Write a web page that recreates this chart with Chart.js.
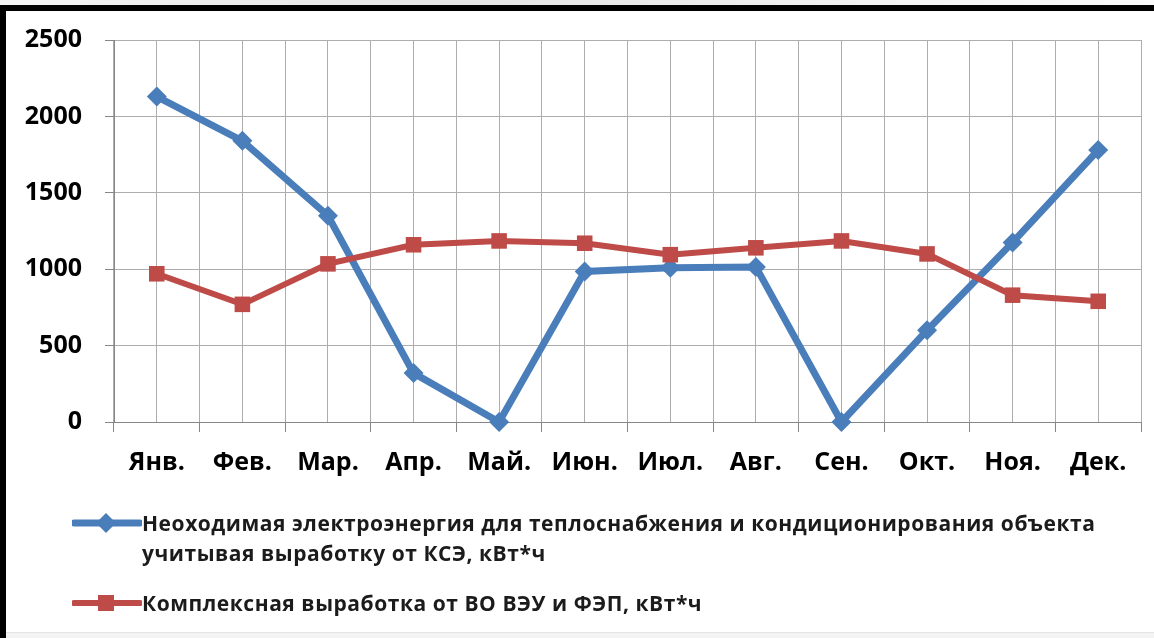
<!DOCTYPE html>
<html lang="ru">
<head>
<meta charset="utf-8">
<title>Выработка электроэнергии по месяцам</title>
<script src="https://cdn.jsdelivr.net/npm/chart.js@4.4.1/dist/chart.umd.min.js"></script>
<style>
  html, body { margin: 0; padding: 0; }
  body { width: 1154px; height: 638px; position: relative; overflow: hidden; background: #fff; font-family: "Open Sans", sans-serif; }
  #topShade { position: absolute; left: 0; top: 0; width: 1154px; height: 5px; background: linear-gradient(to right, #f4f4f4, #e6e6e6 40%, #fafafa); }
  #frameTop { position: absolute; left: 0; top: 5px; width: 1154px; height: 6px; background: #000; z-index: 2; }
  #frameLeft { position: absolute; left: 0; top: 5px; width: 6px; height: 633px; background: #000; z-index: 2; }
  #bottomShade { position: absolute; left: 0; top: 632px; width: 1154px; height: 6px; background: #f3f3f3; border-top: 1px solid #e4e4e4; }
  #chartCanvas { position: absolute; left: 0; top: 0; }
  #legend { position: absolute; left: 72px; top: 0; }
  .legend-item { position: absolute; left: 0; white-space: nowrap; }
  .legend-item svg { position: absolute; left: 0; }
  .legend-text { position: absolute; left: 70px; font-weight: 700; font-size: 21px; letter-spacing: 0.55px; line-height: 30px; color: #1b1b1b; }
</style>
</head>
<body>
<div id="topShade"></div>
<canvas id="chartCanvas" width="1154" height="638"></canvas>
<div id="frameTop"></div>
<div id="frameLeft"></div>
<div id="bottomShade"></div>
<div id="legend"></div>

<script>
// Months on the x axis
const months = ['Янв.', 'Фев.', 'Мар.', 'Апр.', 'Май.', 'Июн.', 'Июл.', 'Авг.', 'Сен.', 'Окт.', 'Ноя.', 'Дек.'];

// Needed energy for heating / air conditioning, kWh
const neededEnergy = [2130, 1840, 1350, 320, 0, 985, 1010, 1015, 0, 600, 1175, 1780];

// Combined output of wind turbines and solar panels, kWh
const combinedOutput = [970, 770, 1035, 1160, 1185, 1170, 1095, 1140, 1185, 1100, 830, 790];

// Y axis ticks
const yTicks = [0, 500, 1000, 1500, 2000, 2500];

// Series labels (first one spans two lines in the legend)
const seriesLabels = [
  ['Неоходимая электроэнергия для теплоснабжения и кондиционирования объекта', 'учитывая выработку от КСЭ, кВт*ч'],
  ['Комплексная выработка от ВО ВЭУ и ФЭП, кВт*ч']
];

const blue = '#4A7EBB';
const red = '#BE4B48';
const gridColor = '#ADADAD';
const axisColor = '#868686';

const datasets = [
  {
    label: seriesLabels[0].join(' '),
    data: neededEnergy,
    borderColor: blue,
    backgroundColor: blue,
    borderWidth: 7,
    pointStyle: 'rectRot',
    pointRadius: 10,
    pointBorderWidth: 0,
    pointBackgroundColor: blue,
    tension: 0,
    clip: false,
    order: 1
  },
  {
    label: seriesLabels[1].join(' '),
    data: combinedOutput,
    borderColor: red,
    backgroundColor: red,
    borderWidth: 6,
    pointStyle: 'rect',
    pointRadius: 11,
    pointBorderWidth: 0,
    pointBackgroundColor: red,
    tension: 0,
    clip: false,
    order: 0
  }
];

const chart = new Chart(document.getElementById('chartCanvas'), {
  type: 'line',
  data: { labels: months, datasets },
  options: {
    responsive: false,
    animation: false,
    devicePixelRatio: 1,
    layout: { padding: { top: 40, right: 13, bottom: 156, left: 0 } },
    plugins: {
      legend: { display: false },
      tooltip: { enabled: false }
    },
    scales: {
      x: {
        position: 'bottom',
        offset: true,
        grid: { offset: true, color: gridColor, lineWidth: 1, tickLength: 10, tickColor: axisColor },
        border: { color: axisColor, width: 1 },
        ticks: { color: '#000', padding: 16, maxRotation: 0, autoSkip: false,
                 font: { family: 'Open Sans', size: 25, weight: 'bold' } },
        afterFit: (scale) => { scale.height = 60; }
      },
      // Extra axis only to draw the gridlines through each month's centre
      xMid: {
        position: 'top',
        offset: true,
        grid: { offset: false, color: gridColor, lineWidth: 1, drawTicks: false },
        border: { display: false },
        ticks: { display: false },
        afterFit: (scale) => { scale.height = 0; }
      },
      y: {
        min: yTicks[0],
        max: yTicks[yTicks.length - 1],
        afterBuildTicks: (scale) => { scale.ticks = yTicks.map(v => ({ value: v })); },
        grid: { color: gridColor, lineWidth: 1, tickLength: 9, tickColor: axisColor },
        border: { color: axisColor, width: 1 },
        ticks: { color: '#000', padding: 23,
                 callback: (v) => String(v),
                 font: { family: 'Open Sans', size: 25, weight: 'bold' } },
        afterFit: (scale) => { scale.width = 114; }
      }
    }
  }
});

// HTML legend built from the datasets
function buildLegend() {
  const legend = document.getElementById('legend');
  const rowTops = [508, 588];
  chart.data.datasets.forEach((ds, i) => {
    const item = document.createElement('div');
    item.className = 'legend-item';
    item.style.top = rowTops[i] + 'px';
    const marker = ds.pointStyle === 'rectRot'
      ? '<polygon points="34,5 44,15 34,25 24,15" fill="' + ds.borderColor + '"/>'
      : '<rect x="26" y="7" width="16" height="16" fill="' + ds.borderColor + '"/>';
    item.innerHTML =
      '<svg width="70" height="30" viewBox="0 0 70 30">' +
      '<line x1="2" y1="15" x2="68" y2="15" stroke="' + ds.borderColor + '" stroke-width="' + ds.borderWidth + '" stroke-linecap="round"/>' +
      marker + '</svg>' +
      '<div class="legend-text">' + seriesLabels[i].join('<br>') + '</div>';
    legend.appendChild(item);
  });
}
buildLegend();
</script>
</body>
</html>
